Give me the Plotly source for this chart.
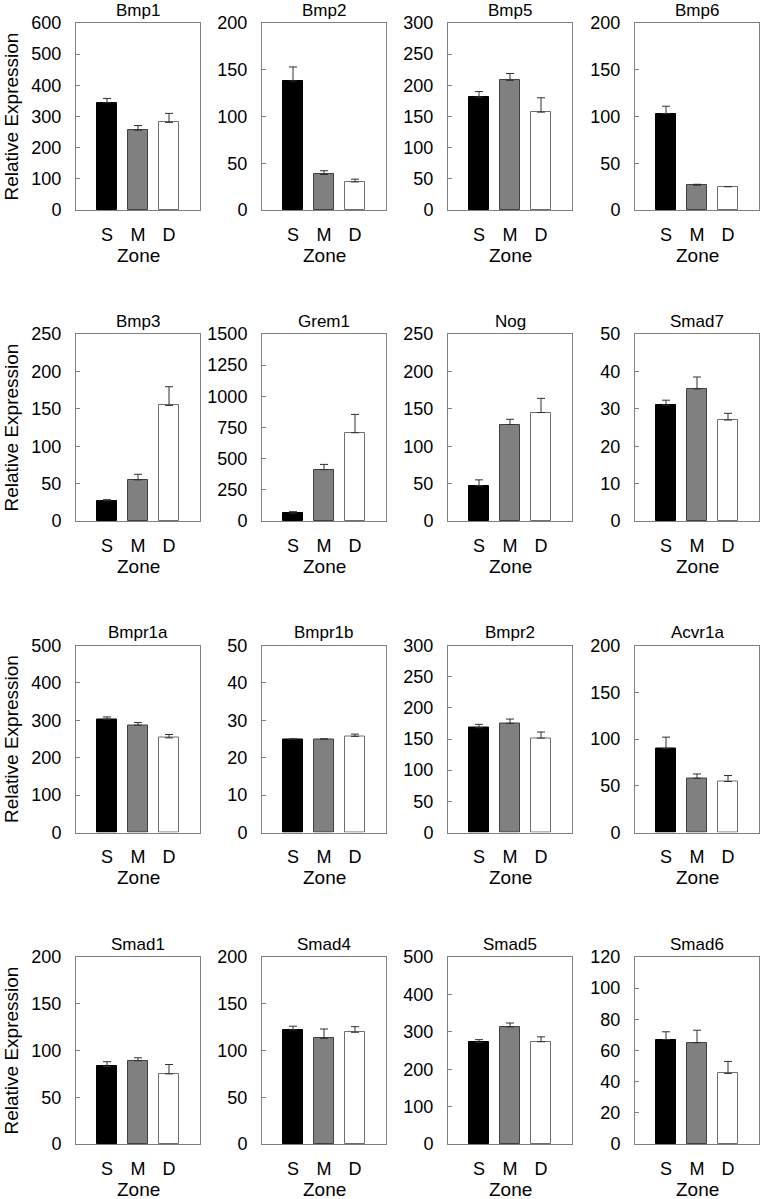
import plotly.graph_objects as go

genes = ["Bmp1", "Bmp2", "Bmp5", "Bmp6",
         "Bmp3", "Grem1", "Nog", "Smad7",
         "Bmpr1a", "Bmpr1b", "Bmpr2", "Acvr1a",
         "Smad1", "Smad4", "Smad5", "Smad6"]
zones = ["S", "M", "D"]

mean_S = [344, 138, 181, 103, 27, 64, 47, 31, 303, 25, 168, 90, 83, 122, 272, 67]
mean_M = [256, 38, 208, 26.5, 55, 412, 129, 35.3, 287, 25, 175, 58, 89, 113, 313, 65]
mean_D = [281, 30, 157, 25, 154.5, 708, 145, 27, 253, 25.7, 151.5, 54.5, 75, 119.5, 273.5, 45.3]

err_S = [14, 15, 9, 8, 1.5, 11, 8, 1.3, 6, 0, 5.5, 12, 5, 4, 7, 5]
err_M = [15, 4, 11, 1, 7.5, 42, 7, 3.2, 7, 0, 7, 4.6, 3.2, 10, 10.5, 8]
err_D = [29, 3, 23, 0, 25, 147, 19, 1.8, 9, 0.6, 9.7, 6.4, 10, 6, 13, 7.7]

y_max = [600, 200, 300, 200, 250, 1500, 250, 50, 500, 50, 300, 200, 200, 200, 500, 120]
y_dtick = [100, 50, 50, 50, 50, 250, 50, 10, 100, 10, 50, 50, 50, 50, 100, 20]

W, H = 762, 1199
col_left = [76, 262, 448, 635]
row_top = [23, 334, 645.5, 957]
pw, ph = 124, 187

FONT = "Liberation Sans, Arial, sans-serif"
fill_colors = ["#000000", "#808080", "#ffffff"]
line_colors = ["#000000", "#404040", "#6e6e6e"]
frame = "#808080"

fig = go.Figure()
annotations = []
layout = {}
for i, g in enumerate(genes):
    r, c = divmod(i, 4)
    k = i + 1
    xs = "" if k == 1 else str(k)
    x0 = col_left[c] / W
    x1 = (col_left[c] + pw) / W
    y1 = 1 - row_top[r] / H
    y0 = 1 - (row_top[r] + ph) / H
    means = [mean_S[i], mean_M[i], mean_D[i]]
    errs = [err_S[i], err_M[i], err_D[i]]
    fig.add_trace(go.Bar(
        x=[1, 2, 3], y=means, width=0.65,
        marker=dict(color=fill_colors, line=dict(color=line_colors, width=1)),
        error_y=dict(type="data", symmetric=False, array=errs,
                     arrayminus=[0, 0, 0], color="#303030",
                     thickness=1, width=4),
        xaxis="x" + xs, yaxis="y" + xs, showlegend=False, hoverinfo="skip",
    ))
    layout["xaxis" + xs] = dict(
        domain=[x0, x1], anchor="y" + xs, range=[0, 4],
        tickmode="array", tickvals=[1, 2, 3], ticktext=zones,
        ticks="", showgrid=False, zeroline=False, automargin=False,
        showline=True, mirror=True, linecolor=frame, linewidth=1,
        tickfont=dict(family=FONT, size=18, color="#000"),
        ticklabelstandoff=8,
    )
    layout["yaxis" + xs] = dict(
        domain=[y0, y1], anchor="x" + xs, range=[0, y_max[i]],
        dtick=y_dtick[i], tick0=0, ticks="inside", ticklen=4,
        tickcolor=frame, showgrid=False, zeroline=False, automargin=False,
        showline=True, mirror=True, linecolor=frame, linewidth=1,
        tickfont=dict(family=FONT, size=18, color="#000"),
        ticklabelstandoff=10,
    )
    cx = (col_left[c] + pw / 2) / W
    annotations.append(dict(
        text=g, x=cx, y=y1, xref="paper", yref="paper",
        xanchor="center", yanchor="bottom", yshift=1, showarrow=False,
        font=dict(family=FONT, size=17, color="#000"),
    ))
    annotations.append(dict(
        text="Zone", x=cx, y=1 - (row_top[r] + ph + 45) / H,
        xref="paper", yref="paper", xanchor="center", yanchor="middle",
        showarrow=False, font=dict(family=FONT, size=19, color="#000"),
    ))
    if c == 0:
        annotations.append(dict(
            text="Relative Expression", x=11 / W,
            y=1 - (row_top[r] + ph / 2) / H,
            xref="paper", yref="paper", xanchor="center", yanchor="middle",
            textangle=-90, showarrow=False,
            font=dict(family=FONT, size=19, color="#000"),
        ))

fig.update_layout(
    width=W, height=H, margin=dict(l=0, r=0, t=0, b=0, autoexpand=False),
    paper_bgcolor="white", plot_bgcolor="white",
    annotations=annotations, bargap=0, **layout,
)
fig.write_html(
    "out.html",
    config={"displayModeBar": False},
    post_script="document.body.style.margin='0';document.body.style.overflow='hidden';",
)
